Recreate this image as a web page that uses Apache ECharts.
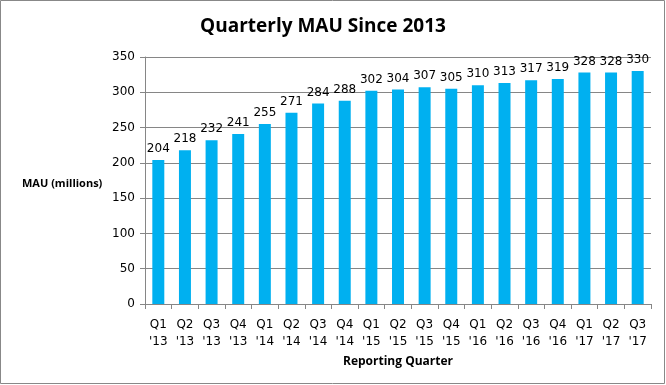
<!DOCTYPE html>
<html><head><meta charset="utf-8">
<script src="https://cdn.jsdelivr.net/npm/echarts@6/dist/echarts.min.js"></script>
<style>html,body{margin:0;padding:0;background:#fff}#c{width:666px;height:385px}</style>
</head><body><div id="c"></div>
<script>
const categories = ["Q1\n'13","Q2\n'13","Q3\n'13","Q4\n'13","Q1\n'14","Q2\n'14","Q3\n'14","Q4\n'14","Q1\n'15","Q2\n'15","Q3\n'15","Q4\n'15","Q1\n'16","Q2\n'16","Q3\n'16","Q4\n'16","Q1\n'17","Q2\n'17","Q3\n'17"];
const mau = [204,218,232,241,255,271,284,288,302,304,307,305,310,313,317,319,328,328,330];
const yTicks = [0,50,100,150,200,250,300,350];

const chart = echarts.init(document.getElementById('c'));
const axisGray = '#868686';
chart.setOption({
  animation: false,
  backgroundColor: '#fff',
  title: {
    text: 'Quarterly MAU Since 2013',
    left: 318, top: 12, textAlign: 'center',
    textStyle: {fontFamily: 'Open Sans', fontWeight: 'bold', fontSize: 19, color: '#000'}
  },
  graphic: [
    {type: 'rect', shape: {x: 0.5, y: 0.5, width: 664, height: 383}, style: {fill: 'none', stroke: '#888', lineWidth: 1}, z: 100},
    {type: 'text', left: 22, top: 178, style: {text: 'MAU (millions)', font: 'bold 11px "Open Sans"', fill: '#000'}}
  ],
  grid: {left: 145, right: 15, top: 57, bottom: 81, containLabel: false},
  xAxis: {
    type: 'category', data: categories,
    name: 'Reporting Quarter', nameLocation: 'middle', nameGap: 52,
    nameTextStyle: {fontFamily: 'Open Sans', fontWeight: 'bold', fontSize: 12, color: '#000'},
    axisLine: {lineStyle: {color: axisGray}},
    axisTick: {show: true, length: 5, lineStyle: {color: axisGray}},
    axisLabel: {interval: 0, margin: 12, fontFamily: 'DejaVu Sans', fontSize: 12, color: '#000', lineHeight: 17}
  },
  yAxis: {
    type: 'value', min: yTicks[0], max: yTicks[yTicks.length-1], interval: 50,
    axisLine: {show: true, lineStyle: {color: axisGray}},
    axisTick: {show: true, length: 5, lineStyle: {color: axisGray}},
    splitLine: {lineStyle: {color: axisGray}},
    axisLabel: {margin: 10, fontFamily: 'DejaVu Sans', fontSize: 12, color: '#000'}
  },
  series: [{
    type: 'bar', data: mau, barWidth: '45%',
    itemStyle: {color: '#00B0F0'},
    label: {show: true, position: 'top', distance: 5, fontFamily: 'DejaVu Sans', fontSize: 12, color: '#000'}
  }]
});
</script></body></html>
